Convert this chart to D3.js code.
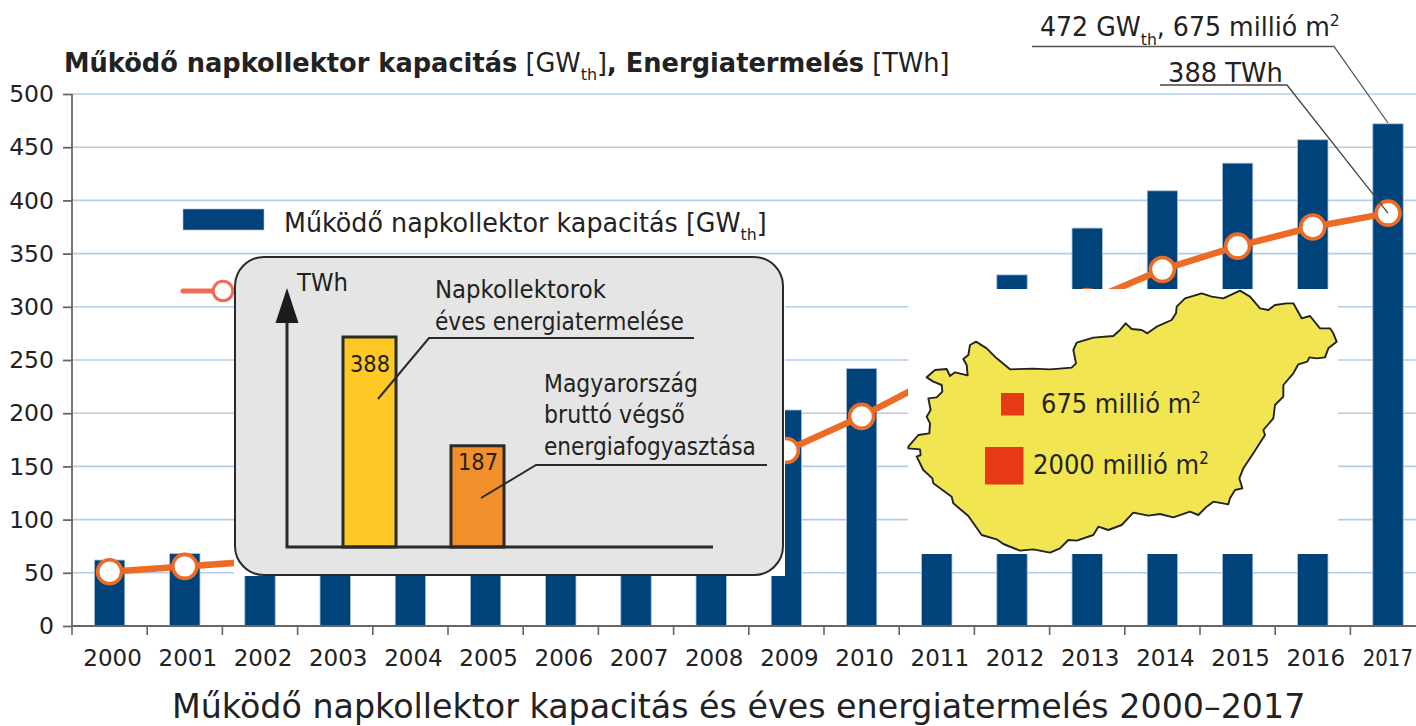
<!DOCTYPE html>
<html><head><meta charset="utf-8">
<script src="https://cdn.jsdelivr.net/npm/d3@7/dist/d3.min.js"></script>
<style>html,body{margin:0;padding:0;background:#fff;overflow:hidden}svg{display:block}text{font-family:"DejaVu Sans",sans-serif;fill:#222}</style>
</head><body><svg id="c" width="1416" height="726"></svg>
<script>
const years=d3.range(2000,2018);
const capacity=[62,68,77,89,98,118,146,150,171,203,242,285,330,374,409,435,457,472];
const energy=[51,56,61,70,81,94,110,122,141,165,197,234,270,305,335,357,375,388];
const yTicks=[0,50,100,150,200,250,300,350,400,450,500];
const insetValues=[388,187];
const insetColors=["#fec925","#f18f2a"];
const hungary=[[25,530],[55,495],[88,490],[90,460],[80,440],[92,420],[85,385],[110,382],[127,365],[125,345],[100,335],[80,322],[105,300],[140,297],[150,318],[165,307],[203,316],[200,285],[190,267],[205,255],[210,225],[228,215],[260,235],[290,265],[330,298],[400,296],[450,298],[515,293],[528,280],[520,240],[530,218],[580,203],[640,198],[660,180],[677,160],[695,177],[725,180],[742,190],[770,170],[815,150],[828,130],[830,110],[855,85],[905,70],[935,80],[970,85],[1020,62],[1050,80],[1080,115],[1105,120],[1125,105],[1160,100],[1180,100],[1205,145],[1230,138],[1260,175],[1290,175],[1300,190],[1310,215],[1285,235],[1275,262],[1250,265],[1228,262],[1222,275],[1195,283],[1180,310],[1150,345],[1150,380],[1125,405],[1120,445],[1090,480],[1095,495],[1060,550],[1030,595],[1018,625],[1027,655],[1005,660],[990,685],[985,703],[940,695],[920,710],[895,735],[870,725],[820,742],[780,732],[745,737],[700,728],[665,765],[625,780],[595,770],[580,795],[530,812],[505,810],[480,835],[450,848],[400,838],[360,842],[310,822],[290,808],[245,795],[205,738],[160,700],[155,680],[100,640],[97,625],[70,600],[50,560],[62,555],[60,538],[25,535]];

const svg=d3.select("#c");
const x=d3.scaleBand().domain(years).range([72,72+18*75.2]);
const y=d3.scaleLinear().domain([0,500]).range([626,94]);
const cx=d=>x(d)+x.bandwidth()/2;
const BLUE="#00437a",ORANGE="#ec6b27",GRID="#b4cde6",AXIS="#666";

// grid
svg.append("g").selectAll("line").data(yTicks.slice(1)).join("line")
 .attr("x1",72).attr("x2",1416).attr("y1",d=>y(d)).attr("y2",d=>y(d))
 .attr("stroke",GRID).attr("stroke-width",1.6);

// bars
svg.append("g").selectAll("rect").data(years).join("rect")
 .attr("x",d=>cx(d)-15.2).attr("width",30.4)
 .attr("y",(d,i)=>y(capacity[i])).attr("height",(d,i)=>y(0)-y(capacity[i]))
 .attr("fill",BLUE).attr("stroke","#a9c3de").attr("stroke-width",.8);

// axes
const ya=svg.append("g").attr("transform","translate(72,0)")
 .call(d3.axisLeft(y).tickValues(yTicks).tickSize(9).tickPadding(9));
ya.selectAll("path,line").attr("stroke",AXIS).attr("stroke-width",1.8);
ya.select("path").attr("d","M0,94V626");
ya.selectAll("text").attr("font-size",23.5).style("font-family",'"DejaVu Sans",sans-serif').attr("fill","#222").attr("dy","0.33em");

const xa=svg.append("g").attr("transform","translate(0,626)")
 .call(d3.axisBottom(x).tickSize(0).tickPadding(24));
xa.select("path").attr("d","M72,0H1416").attr("stroke",AXIS).attr("stroke-width",1.8);
xa.selectAll("text").attr("font-size",23).style("font-family",'"DejaVu Sans",sans-serif').attr("fill","#222").attr("dy","0.7em").attr("x",3);
// last label sits against the page edge, as in the reference: keep it whole
xa.selectAll("text").filter(d=>d===2017).attr("text-anchor","end").attr("x",0)
 .attr("transform",`translate(${1413-cx(2017)},0) scale(.86,1)`);
svg.append("g").selectAll("line").data(years.concat([2018])).join("line")
 .attr("x1",d=>d===2018?x(2017)+x.bandwidth():x(d)).attr("x2",d=>d===2018?x(2017)+x.bandwidth():x(d))
 .attr("y1",626).attr("y2",635).attr("stroke",AXIS).attr("stroke-width",1.6);

// energy line
const ln=d3.line().x(d=>cx(d)).y((d,i)=>y(energy[i]));
svg.append("path").datum(years).attr("d",ln).attr("fill","none").attr("stroke",ORANGE).attr("stroke-width",6.5);
svg.append("g").selectAll("circle").data(years).join("circle")
 .attr("cx",cx).attr("cy",(d,i)=>y(energy[i])).attr("r",12)
 .attr("fill","#fff").attr("stroke",ORANGE).attr("stroke-width",3.6);

function fit(t,x0,x1){ // place text so it spans x0..x1
 const w=t.node().getComputedTextLength();
 const by=+t.attr("data-y");
 t.attr("transform",`translate(${x0},${by}) scale(${(x1-x0)/w},1)`);
 return t;
}
function label(parts,size,x0,x1,by,g){
 const t=(g||svg).append("text").attr("font-size",size).attr("data-y",by);
 parts.forEach(p=>{
  const s=t.append("tspan").text(p.t);
  if(p.b)s.attr("font-weight","bold");
  if(p.sub){s.attr("font-size",size*.62).attr("dy",size*.32);}
  if(p.sup){s.attr("font-size",size*.62).attr("dy",-size*.38);}
  if(p.back)s.attr("dy",p.back);
 });
 return fit(t,x0,x1);
}

// legend
svg.append("rect").attr("x",183).attr("y",209).attr("width",81).attr("height",21).attr("fill",BLUE).attr("stroke","#a9c3de").attr("stroke-width",.6);
const lg=26;
label([{t:"Működő napkollektor kapacitás [GW"},{t:"th",sub:1},{t:"]",back:-lg*.32}],lg,284,767,232);
svg.append("line").attr("x1",183).attr("x2",222).attr("y1",291).attr("y2",291).attr("stroke","#ee6c55").attr("stroke-width",5).attr("stroke-linecap","round");
svg.append("circle").attr("cx",223).attr("cy",291).attr("r",9.8).attr("fill","#fff").attr("stroke","#ee6c55").attr("stroke-width",3);

// inset
svg.append("rect").attr("x",234).attr("y",257).attr("width",551).attr("height",319).attr("fill","#fff");
svg.append("rect").attr("x",235).attr("y",257).attr("width",548).attr("height",318).attr("rx",29).attr("fill","#e5e5e5").attr("stroke","#2a2a2a").attr("stroke-width",2);
const iy=d3.scaleLinear().domain([0,388]).range([547,337]);
const ix=d3.scaleBand().domain(insetValues).range([343,504]).paddingInner(.509);
const ig=svg.append("g");
ig.selectAll("rect").data(insetValues).join("rect")
 .attr("x",d=>ix(d)).attr("width",ix.bandwidth()).attr("y",d=>iy(d)).attr("height",d=>547-iy(d))
 .attr("fill",(d,i)=>insetColors[i]).attr("stroke","#2a2a2a").attr("stroke-width",3);
ig.append("path").attr("d","M287,320V547H713").attr("fill","none").attr("stroke","#2a2a2a").attr("stroke-width",3);
ig.append("path").attr("d","M287,288L298.500,323H275.500Z").attr("fill","#1c1c1c");
ig.append("path").attr("d","M378,399L429,338H694").attr("fill","none").attr("stroke","#2a2a2a").attr("stroke-width",2);
ig.append("path").attr("d","M481,498L536,465H767").attr("fill","none").attr("stroke","#2a2a2a").attr("stroke-width",2);
const ifs=24.5;
label([{t:"TWh"}],ifs,297,348,291);
label([{t:"Napkollektorok"}],ifs,435,606,298);
label([{t:"éves energiatermelése"}],ifs,435,684,330);
label([{t:"Magyarország"}],ifs,544,698,392);
label([{t:"bruttó végső"}],ifs,544,685,423);
label([{t:"energiafogyasztása"}],ifs,544,756,455);
label([{t:String(insetValues[0])}],23.5,350,390,372);
label([{t:String(insetValues[1])}],23.5,458,498,470);

// map
svg.append("rect").attr("x",908).attr("y",289).attr("width",430).attr("height",265).attr("fill","#fff");
const mx=d3.scaleLinear().domain([0,3]).range([900,901]);
const my=d3.scaleLinear().domain([0,3]).range([270,271]);
svg.append("path").datum(hungary)
 .attr("d",d3.line().x(d=>mx(d[0])).y(d=>my(d[1])).curve(d3.curveLinearClosed))
 .attr("fill","#f1e651").attr("stroke","#222").attr("stroke-width",1.9).attr("stroke-linejoin","round");
svg.append("rect").attr("x",1001).attr("y",393).attr("width",23).attr("height",22.500).attr("fill","#e63a14");
svg.append("rect").attr("x",985).attr("y",447).attr("width",38.500).attr("height",37.500).attr("fill","#e63a14");
const mf=27;
label([{t:"675 millió m"},{t:"2",sup:1}],mf,1041,1201,413);
label([{t:"2000 millió m"},{t:"2",sup:1}],mf,1033,1209,474);

// titles & callouts
const tf=26;
label([{t:"Működő napkollektor kapacitás",b:1},{t:" [GW"},{t:"th",sub:1},{t:"]",back:-tf*.32},{t:",",b:1},{t:" Energiatermelés",b:1},{t:" [TWh]"}],tf,64,950,72);
label([{t:"472 GW"},{t:"th",sub:1},{t:", 675 millió m",back:-27*.32},{t:"2",sup:1}],27,1040,1340,36);
label([{t:"388 TWh"}],27,1168,1283,82);
svg.append("path").attr("d",`M1032,46.500H1334L${cx(2017)},123`).attr("fill","none").attr("stroke","#555").attr("stroke-width",1.3);
svg.append("path").attr("d",`M1160,85H1287L${cx(2017)},${y(388)}`).attr("fill","none").attr("stroke","#444").attr("stroke-width",1.3);
label([{t:"Működő napkollektor kapacitás és éves energiatermelés 2000–2017"}],33,172,1306,718);
</script></body></html>
